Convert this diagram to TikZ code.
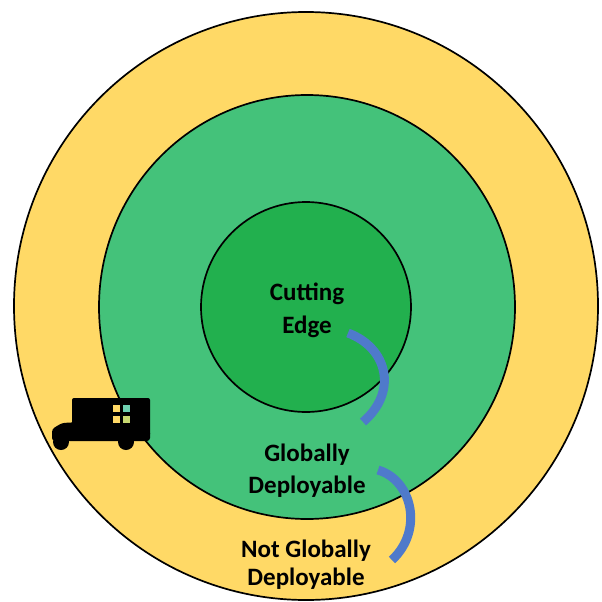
\documentclass[tikz,border=0pt]{standalone}
\usepackage{fontspec}
\setmainfont{Carlito}
\definecolor{ringyellow}{HTML}{FFD966}
\definecolor{midgreen}{HTML}{44C27A}
\definecolor{coregreen}{HTML}{22B04E}
\definecolor{arcblue}{HTML}{4F7ACB}
\definecolor{wincyan}{HTML}{6FD0B0}
\definecolor{wingreen}{HTML}{C8D870}
\tikzset{
  ring/.style={draw=black, line width=1.7pt},
  lbl/.style={font=\fontsize{25}{30}\selectfont\bfseries, text=black, anchor=base, inner sep=0pt},
  arcline/.style={draw=arcblue, line width=9pt},
  truckpart/.style={fill=black, draw=none},
}
\begin{document}
\begin{tikzpicture}[x=1pt,y=-1pt]
\useasboundingbox (0,0) rectangle (602,602);
\fill[white] (0,0) rectangle (602,602);
% rings
\draw[ring, fill=ringyellow] (306,306) ellipse [x radius=292pt, y radius=294pt];
\draw[ring, fill=midgreen] (307,307) ellipse [x radius=208pt, y radius=212pt];
\draw[ring, fill=coregreen] (306,307) circle [radius=105pt];
% labels
\node[lbl] (c1) at (307,300) {Cutting};
\node[lbl] (c2) at (307,333) {Edge};
\node[lbl] (g1) at (307,461) {Globally};
\node[lbl] (g2) at (307,493) {Deployable};
\node[lbl] (n1) at (306,557) {Not Globally};
\node[lbl] (n2) at (306,585) {Deployable};
% blue arcs
\coordinate (a1s) at (348,333);
\coordinate (a1e) at (363,422);
\coordinate (a2s) at (378,470);
\coordinate (a2e) at (392,560);
\draw[arcline] (a1s) .. controls (388,348) and (398,392) .. (a1e);
\draw[arcline] (a2s) .. controls (412,480) and (424,530) .. (a2e);
% truck
\fill[truckpart, rounded corners=2pt] (72,398) rectangle (150,436);
\fill[truckpart, rounded corners=3pt] (52,441) -- (52,429) -- (62,423) -- (80,422) -- (80,430) -- (150,430) -- (150,441) -- cycle;
\fill[truckpart] (61,442) circle [radius=8pt];
\fill[truckpart] (126,442) circle [radius=8pt];
\fill[ringyellow] (113,405) rectangle (119.5,411.5);
\fill[wincyan] (123,405) rectangle (129.5,411.5);
\fill[ringyellow] (113,416) rectangle (119.5,422.5);
\fill[wingreen] (123,416) rectangle (129.5,422.5);
\end{tikzpicture}
\end{document}
